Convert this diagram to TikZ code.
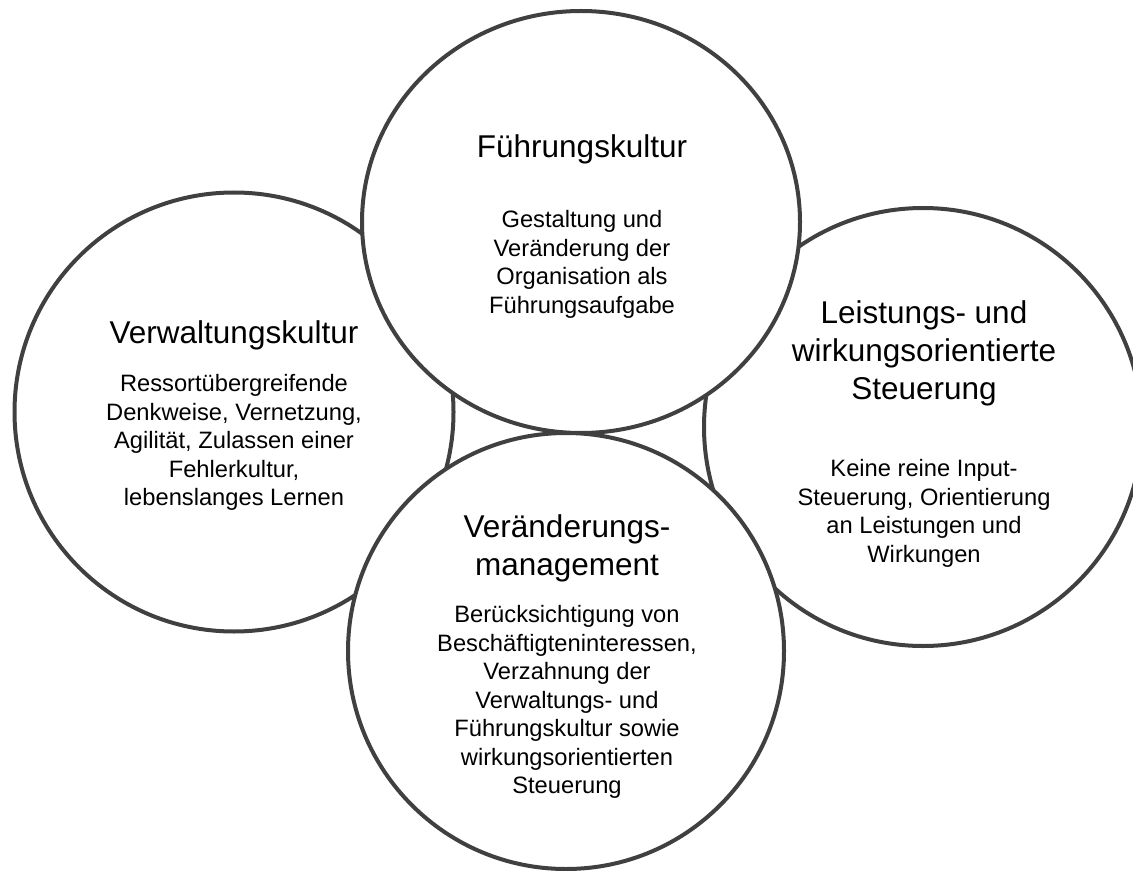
\documentclass[tikz,border=0pt]{standalone}
\usepackage{fontspec}
\setmainfont{Liberation Sans}
\usetikzlibrary{shapes.geometric}
\definecolor{ringgray}{HTML}{404040}

\begin{document}
\begin{tikzpicture}[
  x=0.5pt, y=-0.5pt,
  ring/.style={circle, draw=ringgray, line width=2pt, fill=white, inner sep=0},
  head/.style={font=\fontsize{15.75}{19}\selectfont, align=center, anchor=north, inner sep=0},
  body/.style={font=\fontsize{11.85}{14.25}\selectfont, align=center, anchor=north, inner sep=0}
]
\useasboundingbox (0,0) rectangle (1133,871);

% Circles
\node[ring, minimum size=219.5pt] (verwaltung) at (234,412) {};
\node[ring, minimum size=219pt] (leistung) at (923,427) {};
\node[ring, ellipse, minimum width=219pt, minimum height=211pt] (fuehrung) at (581,222) {};
\node[ring, minimum size=218pt] (wandel) at (566,651) {};

% Titles
\node[head] (fuehrung-title) at (582,134) {Führungskultur};
\node[head] (verwaltung-title) at (234,320) {Verwaltungskultur};
\node[head] (leistung-title) at (924,300) {Leistungs- und\\wirkungsorientierte\\Steuerung};
\node[head] (wandel-title) at (567,514) {Veränderungs-\\management};

% Descriptions
\node[body] (fuehrung-text) at (582,210) {Gestaltung und\\Veränderung der\\Organisation als\\Führungsaufgabe};
\node[body] (verwaltung-text) at (234,374) {Ressortübergreifende\\Denkweise, Vernetzung,\\Agilität, Zulassen einer\\Fehlerkultur,\\lebenslanges Lernen};
\node[body] (leistung-text) at (924,459) {Keine reine Input-\\Steuerung, Orientierung\\an Leistungen und\\Wirkungen};
\node[body] (wandel-text) at (567,605) {Berücksichtigung von\\Beschäftigteninteressen,\\Verzahnung der\\Verwaltungs- und\\Führungskultur sowie\\wirkungsorientierten\\Steuerung};

\end{tikzpicture}
\end{document}
